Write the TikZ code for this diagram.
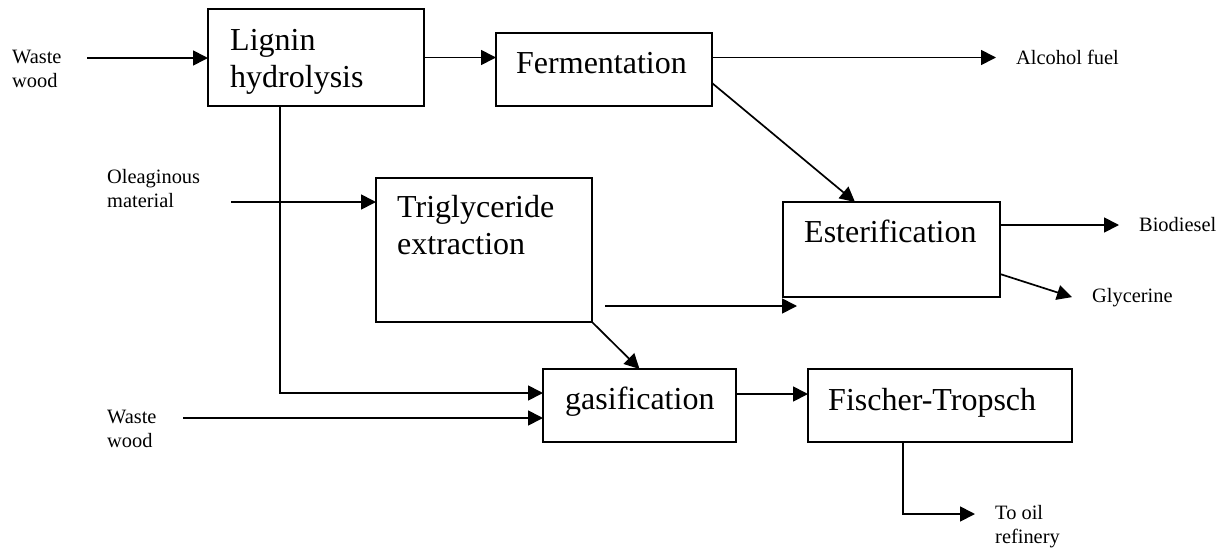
\documentclass[tikz,border=0pt]{standalone}
\usepackage{fontspec}
\setmainfont{Liberation Serif}
\usetikzlibrary{arrows.meta,calc}
\begin{document}
\begin{tikzpicture}[x=1pt,y=-1pt,
  box/.style={draw, line width=2.2pt, inner sep=0pt, outer sep=0pt, anchor=north west},
  big/.style={font=\fontsize{32}{37}\selectfont, inner sep=0pt, anchor=base west, align=left},
  small/.style={font=\fontsize{20.4}{24}\selectfont, inner sep=0pt, anchor=base west, align=left},
  flow/.style={line width=1.7pt, -{Triangle[length=15pt,width=15pt]}},
]
\useasboundingbox (0,0) rectangle (1228,549);

% boxes
\node[box, minimum width=216pt, minimum height=97pt] (lig) at (208,9) {};
\node[box, minimum width=216pt, minimum height=73pt] (fer) at (496,33) {};
\node[box, minimum width=216pt, minimum height=144pt] (tri) at (376,178) {};
\node[box, minimum width=217pt, minimum height=95pt] (est) at (783,202) {};
\node[box, minimum width=193pt, minimum height=73pt] (gas) at (543,369) {};
\node[box, minimum width=264pt, minimum height=73pt] (ft) at (808,369) {};

% texts (base = baseline of the last line)
\node[small] (w1t) at (12,87) {Waste\\wood};
\node[big] (ligt) at (230,87) {Lignin\\hydrolysis};
\node[big] (fert) at (516,73) {Fermentation};
\node[small] (alc) at (1016,64) {Alcohol fuel};
\node[small] (olet) at (107,207) {Oleaginous\\material};
\node[big] (trit) at (397,254) {Triglyceride\\extraction};
\node[big] (estt) at (804,242) {Esterification};
\node[small] (bio) at (1139,231) {Biodiesel};
\node[small] (gly) at (1092,302) {Glycerine};
\node[small] (w2t) at (107,447) {Waste\\wood};
\node[big] (gast) at (565,409) {gasification};
\node[big] (ftt) at (828,410) {Fischer-Tropsch};
\node[small] (ref) at (995,543) {To oil\\refinery};

% free ends
\coordinate (w1) at (87,58);
\coordinate (ole) at (231,202);
\coordinate (w2) at (183,418);
\coordinate (t1) at (605,306);
\coordinate (gf) at ($(gas.east)+(0,-11.5)$);
\coordinate (eb) at ($(est.east)+(0,-24.5)$);
\coordinate (refin) at (975,514);

% connectors
\draw[flow] (w1) -- (w1 -| lig.west);
\draw[flow] (lig.east) -- (lig.east -| fer.west);
\draw[flow] (fer.east |- lig.east) -- ([xshift=-20pt]alc.west |- lig.east);
\draw[flow] ($(fer.east)+(0,13.5)$) -- ($(est.north west)+(72,0)$);
\draw[flow] (ole) -- (ole -| tri.west);
\draw[flow] ($(lig.south west)+(72,0)$) |- ($(gas.west)+(0,-12.5)$);
\draw[flow] (w2) -- (w2 -| gas.west);
\draw[flow] (tri.south east) -- (gas.north);
\draw[flow] (t1) -- ($(est.south west)+(14,9)$);
\draw[flow] (gf) -- (gf -| ft.west);
\draw[flow] (eb) -- ([xshift=-20pt]bio.west |- eb);
\draw[flow] ($(est.east)+(0,24.5)$) -- ([xshift=-20pt]gly.west);
\draw[flow] ($(ft.south west)+(95,0)$) |- (refin);
\end{tikzpicture}
\end{document}
